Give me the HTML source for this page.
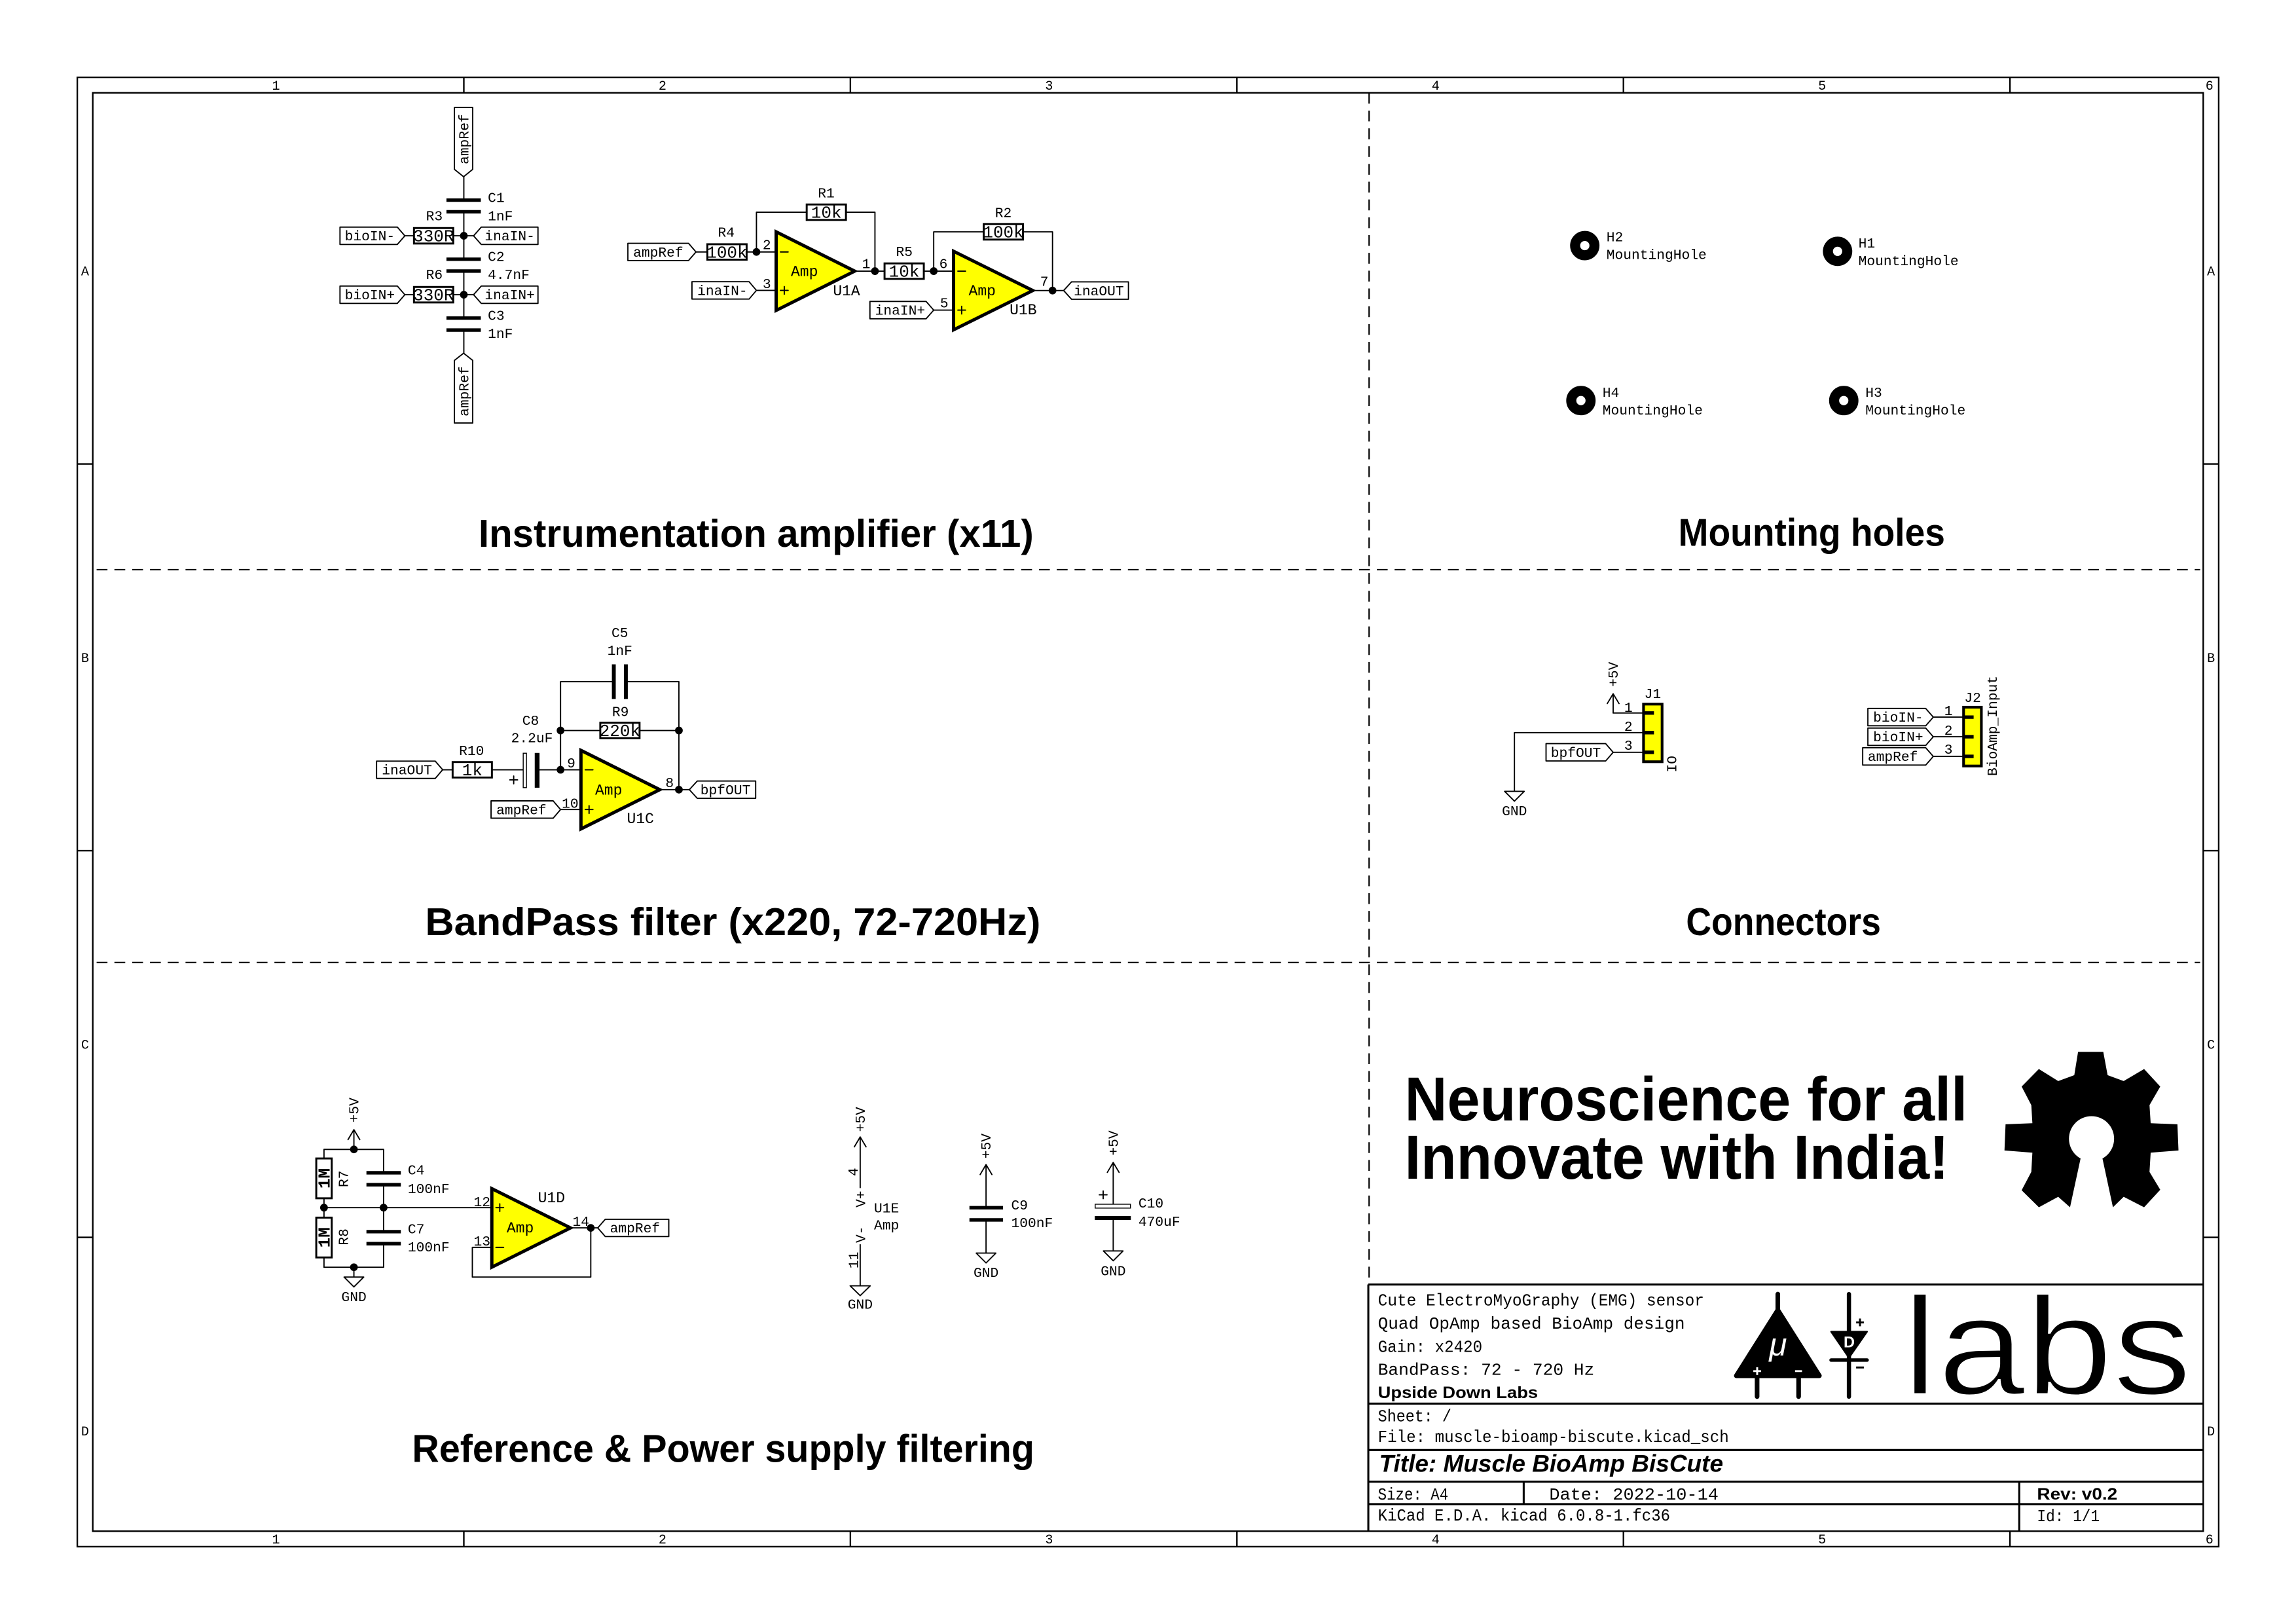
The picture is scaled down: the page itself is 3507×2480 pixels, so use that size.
<!DOCTYPE html>
<html><head><meta charset="utf-8"><style>
html,body{margin:0;padding:0;background:#fff}
svg{display:block}
.w{stroke:#000;stroke-width:0.16;fill:none;stroke-linecap:round;stroke-linejoin:round}
.f{stroke:#000;stroke-width:0.2;fill:none}
.tb{stroke:#000;stroke-width:0.26;fill:none}
.d{stroke:#000;stroke-width:0.18;fill:none;stroke-dasharray:1.4 0.9}
.t{font-family:"Liberation Mono","DejaVu Sans Mono",monospace;font-size:1.8px;fill:#000}
.tm{font-family:"Liberation Mono","DejaVu Sans Mono",monospace;font-size:1.8px;fill:#000;text-anchor:middle}
.a{font-family:"Liberation Mono","DejaVu Sans Mono",monospace;font-size:1.95px;fill:#000}
.v{font-family:"Liberation Mono","DejaVu Sans Mono",monospace;font-size:2.2px;fill:#000;text-anchor:middle}
.h{font-family:"Liberation Sans","DejaVu Sans",sans-serif;font-weight:bold;font-size:5px;fill:#000}
.tt{font-family:"Liberation Mono","DejaVu Sans Mono",monospace;font-size:2.2px;fill:#000}
.lbl{stroke:#000;stroke-width:0.16;fill:#fff;stroke-linejoin:round}
.res{stroke:#000;stroke-width:0.25;fill:none}
.cap{stroke:#000;stroke-width:0.45;fill:none}
.oa{fill:#ffff00;stroke:#000;stroke-width:0.42;stroke-linejoin:miter}
.con{fill:#ffff00;stroke:#000;stroke-width:0.35}
.pin{stroke:#000;stroke-width:0.45}
.mh{fill:none;stroke:#000;stroke-width:1.3}
</style></head><body>
<svg width="3507" height="2480" viewBox="0 0 297 210" preserveAspectRatio="none" xmlns="http://www.w3.org/2000/svg">
<rect width="297" height="210" fill="#fff"/>

<!-- Frame -->
<rect class="f" x="10" y="10" width="277" height="190"/>
<rect class="f" x="12" y="12" width="273" height="186"/>
<path class="f" d="M60 10V12M110 10V12M160 10V12M210 10V12M260 10V12M60 198V200M110 198V200M160 198V200M210 198V200M260 198V200M10 60H12M10 110H12M10 160H12M285 60H287M285 110H287M285 160H287"/>
<g class="tm" style="font-size:1.7px">
<text x="35.7" y="11.6">1</text><text x="85.7" y="11.6">2</text><text x="135.7" y="11.6">3</text><text x="185.7" y="11.6">4</text><text x="235.7" y="11.6">5</text><text x="285.8" y="11.6">6</text>
<text x="35.7" y="199.6">1</text><text x="85.7" y="199.6">2</text><text x="135.7" y="199.6">3</text><text x="185.7" y="199.6">4</text><text x="235.7" y="199.6">5</text><text x="285.8" y="199.6">6</text>
<text x="11" y="35.6">A</text><text x="11" y="85.6">B</text><text x="11" y="135.6">C</text><text x="11" y="185.6">D</text>
<text x="286" y="35.6">A</text><text x="286" y="85.6">B</text><text x="286" y="135.6">C</text><text x="286" y="185.6">D</text>
</g>

<!-- Dashed separators -->
<path class="d" d="M177.1 12V166M12.5 73.66H284.6M12.5 124.46H284.6"/>

<!-- Headings -->
<text class="h" x="61.9" y="70.7" textLength="71.8" lengthAdjust="spacingAndGlyphs">Instrumentation amplifier (x11)</text>
<text class="h" x="217.1" y="70.6" textLength="34.5" lengthAdjust="spacingAndGlyphs">Mounting holes</text>
<text class="h" x="55.0" y="120.9" textLength="79.6" lengthAdjust="spacingAndGlyphs">BandPass filter (x220, 72-720Hz)</text>
<text class="h" x="218.1" y="120.9" textLength="25.2" lengthAdjust="spacingAndGlyphs">Connectors</text>
<text class="h" x="53.3" y="189.05" textLength="80.5" lengthAdjust="spacingAndGlyphs">Reference &amp; Power supply filtering</text>

<!-- ===== Input network ===== -->
<path class="w" d="M60 22.85V25.88M60 27.38V33.52M60 35.05V41.13M60 42.68V45.67M52.37 30.49H53.55M58.63 30.49H61.26M52.37 38.11H53.55M58.63 38.11H61.26"/>
<path class="cap" d="M57.75 25.88H62.2M57.75 27.38H62.2M57.75 33.52H62.2M57.75 35.05H62.2M57.75 41.13H62.2M57.75 42.68H62.2"/>
<rect class="res" x="53.55" y="29.49" width="5.08" height="2"/>
<rect class="res" x="53.55" y="37.11" width="5.08" height="2"/>
<text class="v" x="56.09" y="31.22">330R</text>
<text class="v" x="56.09" y="38.84">330R</text>
<circle cx="60" cy="30.49" r="0.5"/><circle cx="60" cy="38.11" r="0.5"/>
<polygon class="lbl" points="58.78,13.89 61.15,13.89 61.15,21.9 59.97,22.85 58.78,21.9"/>
<text class="tm" transform="translate(60.6,18.0) rotate(-90)">ampRef</text>
<polygon class="lbl" points="59.97,45.67 61.15,46.6 61.15,54.7 58.78,54.7 58.78,46.6"/>
<text class="tm" transform="translate(60.6,50.6) rotate(-90)">ampRef</text>
<polygon class="lbl" points="43.98,29.37 51.4,29.37 52.37,30.49 51.4,31.61 43.98,31.61"/>
<text class="t" x="44.6" y="31.09">bioIN-</text>
<polygon class="lbl" points="61.26,30.49 62.25,29.37 69.59,29.37 69.59,31.61 62.25,31.61"/>
<text class="t" x="62.7" y="31.09">inaIN-</text>
<polygon class="lbl" points="43.98,36.99 51.4,36.99 52.37,38.11 51.4,39.23 43.98,39.23"/>
<text class="t" x="44.6" y="38.71">bioIN+</text>
<polygon class="lbl" points="61.26,38.11 62.25,36.99 69.59,36.99 69.59,39.23 62.25,39.23"/>
<text class="t" x="62.7" y="38.71">inaIN+</text>
<g class="t">
<text x="63.1" y="26.11">C1</text><text x="63.1" y="28.51">1nF</text><text x="55.1" y="28.51">R3</text>
<text x="63.1" y="33.73">C2</text><text x="63.1" y="36.07">4.7nF</text><text x="55.1" y="36.07">R6</text>
<text x="63.1" y="41.35">C3</text><text x="63.1" y="43.7">1nF</text>
</g>

<!-- ===== U1A / U1B ===== -->
<path class="w" d="M90.03 32.58H91.5M96.58 32.58H100.4M97.85 32.58V27.44H104.35M109.43 27.44H113.18V35.06M110.56 35.06H114.42M119.5 35.06H123.35M120.78 35.06V29.98H127.25M132.33 29.98H136.15V37.57M97.85 37.55H100.4M120.78 40.1H123.35M133.6 37.57H137.59"/>
<rect class="res" x="91.5" y="31.58" width="5.08" height="2"/>
<rect class="res" x="104.35" y="26.44" width="5.08" height="2"/>
<rect class="res" x="114.42" y="34.06" width="5.08" height="2"/>
<rect class="res" x="127.25" y="28.98" width="5.08" height="2"/>
<text class="v" x="94.04" y="33.31">100k</text>
<text class="v" x="106.89" y="28.17">10k</text>
<text class="v" x="116.96" y="35.79">10k</text>
<text class="v" x="129.79" y="30.71">100k</text>
<polygon class="oa" points="100.4,29.98 100.4,40.14 110.56,35.06"/>
<polygon class="oa" points="123.35,32.49 123.35,42.65 133.6,37.57"/>
<path class="w" d="M100.95 32.58H101.95M100.95 37.55H101.95M101.45 37.05V38.05M123.9 35.06H124.9M123.9 40.1H124.9M124.4 39.6V40.6"/>
<circle cx="97.85" cy="32.58" r="0.5"/><circle cx="113.18" cy="35.06" r="0.5"/><circle cx="120.78" cy="35.06" r="0.5"/><circle cx="136.15" cy="37.57" r="0.5"/>
<polygon class="lbl" points="81.22,31.46 89.06,31.46 90.03,32.58 89.06,33.7 81.22,33.7"/>
<text class="t" x="81.9" y="33.18">ampRef</text>
<polygon class="lbl" points="89.51,36.43 96.9,36.43 97.85,37.55 96.9,38.67 89.51,38.67"/>
<text class="t" x="90.2" y="38.15">inaIN-</text>
<polygon class="lbl" points="112.53,38.98 119.8,38.98 120.78,40.1 119.8,41.22 112.53,41.22"/>
<text class="t" x="113.2" y="40.7">inaIN+</text>
<polygon class="lbl" points="137.59,37.57 138.6,36.45 145.97,36.45 145.97,38.69 138.6,38.69"/>
<text class="t" x="138.9" y="38.17">inaOUT</text>
<g class="t">
<text x="92.86" y="30.63">R4</text><text x="105.8" y="25.55">R1</text><text x="115.9" y="33.09">R5</text><text x="128.7" y="28.09">R2</text>
<text x="98.65" y="32.24">2</text><text x="98.65" y="37.26">3</text><text x="111.5" y="34.67">1</text>
<text x="121.5" y="34.67">6</text><text x="121.6" y="39.75">5</text><text x="134.55" y="36.98">7</text>
</g>
<g class="a">
<text x="102.3" y="35.7">Amp</text><text x="107.75" y="38.17">U1A</text>
<text x="125.3" y="38.17">Amp</text><text x="130.6" y="40.65">U1B</text>
</g>

<!-- ===== Bandpass U1C ===== -->
<path class="w" d="M57.26 99.54H58.55M63.63 99.54H67.65M69.8 99.54H75.15M72.51 99.54V88.14H79.4M80.96 88.14H87.82V102.11M72.51 94.46H77.65M82.75 94.46H87.82M85.35 102.11H89.17M72.51 104.68H75.15"/>
<rect class="res" x="58.55" y="98.54" width="5.08" height="2"/>
<rect class="res" x="77.65" y="93.46" width="5.08" height="2"/>
<text class="v" x="61.09" y="100.27">1k</text>
<text class="v" x="80.19" y="95.19">220k</text>
<rect x="67.68" y="97.4" width="0.42" height="4.45" fill="#fff" stroke="#000" stroke-width="0.12"/>
<rect x="69.17" y="97.36" width="0.62" height="4.5" fill="#000"/>
<path class="w" d="M65.95 100.85H66.95M66.45 100.35V101.35"/>
<path stroke="#000" stroke-width="0.5" d="M79.4 85.9V90.38M80.96 85.9V90.38"/>
<polygon class="oa" points="75.15,97.03 75.15,107.19 85.35,102.11"/>
<path class="w" d="M75.7 99.54H76.7M75.7 104.68H76.7M76.2 104.18V105.18"/>
<circle cx="72.51" cy="99.54" r="0.5"/><circle cx="72.51" cy="94.46" r="0.5"/><circle cx="87.82" cy="94.46" r="0.5"/><circle cx="87.82" cy="102.11" r="0.5"/>
<polygon class="lbl" points="48.71,98.42 56.3,98.42 57.26,99.54 56.3,100.66 48.71,100.66"/>
<text class="t" x="49.4" y="100.14">inaOUT</text>
<polygon class="lbl" points="89.17,102.11 90.2,100.99 97.75,100.99 97.75,103.23 90.2,103.23"/>
<text class="t" x="90.6" y="102.71">bpfOUT</text>
<polygon class="lbl" points="63.52,103.56 71.55,103.56 72.51,104.68 71.55,105.8 63.52,105.8"/>
<text class="t" x="64.2" y="105.28">ampRef</text>
<g class="t">
<text x="59.38" y="97.62">R10</text><text x="67.56" y="93.73">C8</text><text x="66.11" y="95.98">2.2uF</text>
<text x="73.35" y="99.23">9</text><text x="72.67" y="104.45">10</text><text x="86.07" y="101.77">8</text>
</g>
<g class="tm">
<text x="80.18" y="82.38">C5</text><text x="80.18" y="84.69">1nF</text><text x="80.25" y="92.6">R9</text>
</g>
<g class="a"><text x="76.98" y="102.76">Amp</text><text x="81.09" y="106.43">U1C</text></g>

<!-- ===== Reference U1D ===== -->
<path class="w" d="M45.78 146.08V148.63M41.91 148.63H49.62M41.91 148.63V149.8M41.91 154.95V157.45M41.91 162.6V163.87H49.62M49.62 148.63V151.65M49.62 153.2V159.27M49.62 160.82V163.87M41.91 156.16H63.62M45.78 163.87V165.14M73.8 158.78H77.32M63.62 161.3H61.1V165.14H76.42V158.78M45.02 147.36L45.78 146.08L46.54 147.36M44.51 165.14H47.05L45.78 166.41Z"/>
<rect class="res" x="40.91" y="149.8" width="2" height="5.15"/>
<rect class="res" x="40.91" y="157.45" width="2" height="5.15"/>
<text class="v" style="font-weight:bold" transform="translate(42.63,152.38) rotate(-90)">1M</text>
<text class="v" style="font-weight:bold" transform="translate(42.63,160.02) rotate(-90)">1M</text>
<text class="tm" transform="translate(45.0,152.44) rotate(-90)">R7</text>
<text class="tm" transform="translate(45.0,159.95) rotate(-90)">R8</text>
<text class="tm" transform="translate(46.38,143.55) rotate(-90)">+5V</text>
<path class="cap" d="M47.4 151.65H51.85M47.4 153.2H51.85M47.4 159.27H51.85M47.4 160.82H51.85"/>
<circle cx="45.78" cy="148.63" r="0.5"/><circle cx="41.91" cy="156.16" r="0.5"/><circle cx="49.62" cy="156.16" r="0.5"/><circle cx="45.78" cy="163.87" r="0.5"/><circle cx="76.42" cy="158.78" r="0.5"/>
<polygon class="oa" points="63.62,153.7 63.62,163.86 73.8,158.78"/>
<path class="w" d="M64.15 156.16H65.15M64.65 155.66V156.66M64.15 161.3H65.15"/>
<polygon class="lbl" points="77.32,158.78 78.3,157.66 86.51,157.66 86.51,159.9 78.3,159.9"/>
<text class="t" x="78.9" y="159.38">ampRef</text>
<g class="t">
<text x="52.75" y="151.87">C4</text><text x="52.75" y="154.27">100nF</text><text x="52.75" y="159.49">C7</text><text x="52.75" y="161.8">100nF</text>
<text x="61.27" y="155.97">12</text><text x="61.27" y="161.05">13</text><text x="74.06" y="158.51">14</text>
</g>
<text class="tm" x="45.78" y="168.25">GND</text>
<g class="a"><text x="65.54" y="159.35">Amp</text><text x="69.58" y="155.48">U1D</text></g>

<!-- ===== U1E power ===== -->
<path class="w" d="M111.27 147.02V153.57M111.27 160.95V166.27M110.51 148.3L111.27 147.02L112.03 148.3M109.97 166.27H112.57L111.27 167.54Z"/>
<text class="tm" transform="translate(111.87,144.75) rotate(-90)">+5V</text>
<text class="tm" transform="translate(110.94,151.55) rotate(-90)">4</text>
<text class="tm" transform="translate(111.92,155.05) rotate(-90)">V+</text>
<text class="tm" transform="translate(111.92,159.64) rotate(-90)">V-</text>
<text class="tm" transform="translate(110.97,162.95) rotate(-90)">11</text>
<text class="t" x="113.06" y="156.76">U1E</text><text class="t" x="113.06" y="158.99">Amp</text>
<text class="tm" x="111.27" y="169.24">GND</text>

<!-- C9 -->
<path class="w" d="M127.55 150.6V156.17M127.55 157.75V162.04M126.79 151.88L127.55 150.6L128.31 151.88M126.28 162.04H128.82L127.55 163.31Z"/>
<path class="cap" d="M125.4 156.17H129.75M125.4 157.75H129.75"/>
<text class="tm" transform="translate(128.15,148.2) rotate(-90)">+5V</text>
<text class="t" x="130.8" y="156.4">C9</text><text class="t" x="130.8" y="158.7">100nF</text>
<text class="tm" x="127.55" y="165.14">GND</text>

<!-- C10 -->
<path class="w" d="M144 150.32V155.7M144 157.75V161.76M143.24 151.6L144 150.32L144.76 151.6M142.73 161.76H145.27L144 163.03ZM142.2 154.5H143.2M142.7 154V155"/>
<rect x="141.67" y="155.72" width="4.56" height="0.5" fill="#fff" stroke="#000" stroke-width="0.12"/>
<rect x="141.62" y="157.24" width="4.66" height="0.51" fill="#000"/>
<text class="tm" transform="translate(144.6,147.8) rotate(-90)">+5V</text>
<text class="t" x="147.26" y="156.16">C10</text><text class="t" x="147.26" y="158.5">470uF</text>
<text class="tm" x="144" y="164.92">GND</text>

<!-- ===== Mounting holes ===== -->
<circle class="mh" cx="205.0" cy="31.76" r="1.25"/>
<text class="t" x="207.8" y="31.2">H2</text><text class="t" x="207.8" y="33.5">MountingHole</text>
<circle class="mh" cx="237.7" cy="32.5" r="1.25"/>
<text class="t" x="240.4" y="32.0">H1</text><text class="t" x="240.4" y="34.3">MountingHole</text>
<circle class="mh" cx="204.5" cy="51.8" r="1.25"/>
<text class="t" x="207.3" y="51.3">H4</text><text class="t" x="207.3" y="53.6">MountingHole</text>
<circle class="mh" cx="238.5" cy="51.8" r="1.25"/>
<text class="t" x="241.3" y="51.3">H3</text><text class="t" x="241.3" y="53.6">MountingHole</text>

<!-- ===== Connectors ===== -->
<path class="w" d="M212.6 92.2H208.67V89.71M207.91 90.98L208.67 89.71L209.43 90.98M212.6 94.74H195.9V102.33M194.63 102.33H197.17L195.9 103.6ZM208.67 97.28H212.6"/>
<rect class="con" x="212.6" y="91.05" width="2.4" height="7.45"/>
<path class="pin" d="M212.6 92.2H213.95M212.6 94.74H213.95M212.6 97.28H213.95"/>
<text class="tm" transform="translate(209.27,87.2) rotate(-90)">+5V</text>
<text class="tm" x="195.9" y="105.44">GND</text>
<polygon class="lbl" points="199.99,96.16 207.7,96.16 208.67,97.28 207.7,98.4 199.99,98.4"/>
<text class="t" x="200.6" y="97.88">bpfOUT</text>
<g class="t"><text x="212.7" y="90.28">J1</text><text x="210.1" y="92.03">1</text><text x="210.1" y="94.51">2</text><text x="210.1" y="96.97">3</text></g>
<text class="tm" transform="translate(216.84,98.8) rotate(-90)">IO</text>

<path class="w" d="M250.08 92.73H254M250.08 95.27H254M250.08 97.81H254"/>
<rect class="con" x="254.0" y="91.45" width="2.3" height="7.6"/>
<path class="pin" d="M254 92.73H255.3M254 95.27H255.3M254 97.81H255.3"/>
<polygon class="lbl" points="241.62,91.61 249.1,91.61 250.08,92.73 249.1,93.85 241.62,93.85"/>
<text class="t" x="242.3" y="93.33">bioIN-</text>
<polygon class="lbl" points="241.62,94.15 249.1,94.15 250.08,95.27 249.1,96.39 241.62,96.39"/>
<text class="t" x="242.3" y="95.87">bioIN+</text>
<polygon class="lbl" points="240.95,96.69 249.1,96.69 250.08,97.81 249.1,98.93 240.95,98.93"/>
<text class="t" x="241.6" y="98.41">ampRef</text>
<g class="t"><text x="254.1" y="90.76">J2</text><text x="251.5" y="92.45">1</text><text x="251.5" y="95.0">2</text><text x="251.5" y="97.48">3</text></g>
<text class="tm" transform="translate(258.3,93.86) rotate(-90)">BioAmp_Input</text>

<!-- ===== Slogan + gear ===== -->
<text class="h" style="font-size:8px" x="181.7" y="144.9" textLength="72.8" lengthAdjust="spacingAndGlyphs">Neuroscience for all</text>
<text class="h" style="font-size:8px" x="181.7" y="152.4" textLength="70.4" lengthAdjust="spacingAndGlyphs">Innovate with India!</text>
<polygon fill="#000" points="268.81,136.01 272.07,136.01 272.63,139.03 274.71,139.79 277.35,138.24 279.44,140.5 278.05,142.9 278.2,145.24 281.66,145.38 281.8,148.77 278.2,149.05 278.05,151.54 279.44,153.85 277.35,156.11 274.71,154.76 273.32,156.11 271.9,149.5 269.2,149.5 267.77,156.11 266.24,154.76 263.74,156.11 261.51,153.91 262.76,151.54 262.9,149.05 259.29,148.77 259.43,145.38 262.9,145.24 262.76,142.9 261.51,140.5 263.74,138.24 266.24,139.79 268.32,139.03"/>
<circle cx="270.55" cy="147.25" r="2.92" fill="#fff"/>

<!-- ===== Title block ===== -->
<path class="tb" d="M177 166.1H285M177 166.1V198M177 181.5H285M177 187.5H285M177 191.6H285M177 194.5H285M197.1 191.6V194.5M261.2 191.6V198"/>
<text class="tt" x="178.24" y="168.8" textLength="42.2" lengthAdjust="spacingAndGlyphs">Cute ElectroMyoGraphy (EMG) sensor</text>
<text class="tt" x="178.24" y="171.8" textLength="39.7" lengthAdjust="spacingAndGlyphs">Quad OpAmp based BioAmp design</text>
<text class="tt" x="178.24" y="174.8" textLength="13.5" lengthAdjust="spacingAndGlyphs">Gain: x2420</text>
<text class="tt" x="178.24" y="177.76" textLength="28.0" lengthAdjust="spacingAndGlyphs">BandPass: 72 - 720 Hz</text>
<text class="h" style="font-size:2.15px" x="178.24" y="180.8" textLength="20.7" lengthAdjust="spacingAndGlyphs">Upside Down Labs</text>
<text class="tt" x="178.24" y="183.8" textLength="9.5" lengthAdjust="spacingAndGlyphs">Sheet: /</text>
<text class="tt" x="178.24" y="186.45" textLength="45.4" lengthAdjust="spacingAndGlyphs">File: muscle-bioamp-biscute.kicad_sch</text>
<text class="h" style="font-size:3.1px;font-style:italic" x="178.4" y="190.3" textLength="44.5" lengthAdjust="spacingAndGlyphs">Title: Muscle BioAmp BisCute</text>
<text class="tt" x="178.24" y="193.9" textLength="9.1" lengthAdjust="spacingAndGlyphs">Size: A4</text>
<text class="tt" x="200.4" y="193.9" textLength="21.9" lengthAdjust="spacingAndGlyphs">Date: 2022-10-14</text>
<text class="tt" x="178.24" y="196.6" textLength="37.8" lengthAdjust="spacingAndGlyphs">KiCad E.D.A.  kicad 6.0.8-1.fc36</text>
<text class="h" style="font-size:2.15px" x="263.5" y="193.9" textLength="10.4" lengthAdjust="spacingAndGlyphs">Rev: v0.2</text>
<text class="tt" x="263.5" y="196.7" textLength="8.1" lengthAdjust="spacingAndGlyphs">Id: 1/1</text>

<!-- labs logo: opamp -->
<path d="M229.97 167.34V169.9M227.29 177.9V180.6M232.66 177.9V180.6" stroke="#000" stroke-width="0.6" stroke-linecap="round"/>
<polygon points="229.97,169.4 224.6,177.9 235.35,177.9" fill="#000" stroke="#000" stroke-width="0.6" stroke-linejoin="round"/>
<text x="230.0" y="175.3" fill="#fff" text-anchor="middle" style="font-family:'Liberation Sans',sans-serif;font-size:4.2px;font-style:italic">μ</text>
<path d="M226.8 177.3H227.8M227.3 176.8V177.8M232.2 177.3H233.1" stroke="#fff" stroke-width="0.25"/>
<!-- diode -->
<path d="M239.17 167.34V180.6" stroke="#000" stroke-width="0.55" stroke-linecap="round"/>
<polygon points="236.86,172.2 241.52,172.2 239.17,175.58" fill="#000" stroke="#000" stroke-width="0.2" stroke-linejoin="round"/>
<path d="M236.86 175.87H241.52" stroke="#000" stroke-width="0.45" stroke-linecap="round"/>
<text x="239.2" y="174.23" fill="#fff" text-anchor="middle" style="font-family:'Liberation Sans',sans-serif;font-size:2.0px;font-weight:bold">D</text>
<path d="M240.1 171.0H241.1M240.6 170.5V171.5M240.1 176.83H241.1" stroke="#000" stroke-width="0.25"/>
<text x="246.1" y="180.3" textLength="37.4" lengthAdjust="spacingAndGlyphs" style="font-family:'Liberation Sans',sans-serif;font-size:18px" fill="#000" stroke="#fff" stroke-width="0.3">labs</text>

</svg>
</body></html>
